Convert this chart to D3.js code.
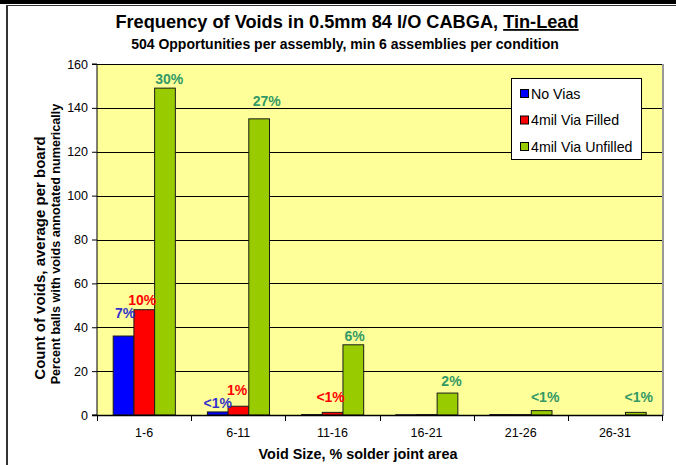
<!DOCTYPE html>
<html>
<head>
<meta charset="utf-8">
<script src="https://cdn.jsdelivr.net/npm/d3@7"></script>
<style>
  html, body { margin: 0; padding: 0; background: #fff; }
  svg { display: block; font-family: Arial, "Liberation Sans", sans-serif; }
</style>
</head>
<body>
<svg id="chart" width="676" height="465"></svg>
<script>
// ---- data ----
const categories = ["1-6", "6-11", "11-16", "16-21", "21-26", "26-31"];
const seriesNames = ["No Vias", "4mil Via Filled", "4mil Via Unfilled"];
const noVias   = [36, 1.4, 0.2, 0.1, 0.2, 0];
const viaFilled = [48, 4, 1.2, 0.2, 0.2, 0];
const viaUnfilled = [149, 135, 32, 10, 2, 1.2];
const noViasLabels = ["7%", "<1%", "", "", "", ""];
const viaFilledLabels = ["10%", "1%", "<1%", "", "", ""];
const viaUnfilledLabels = ["30%", "27%", "6%", "2%", "<1%", "<1%"];
const yTicks = [0, 20, 40, 60, 80, 100, 120, 140, 160];

// ---- layout / style ----
const colors = ["#0000FF", "#FF0000", "#99CC00"];
const labelColors = ["#3333CC", "#FF0000", "#339966"];
// label nudges [dx, gap above bar top] per series per category
const labelNudge = [
  [[1.5, 18], [0, 4], [0, 4], [0, 4], [0, 4], [0, 4]],
  [[-2, 5], [-1.3, 11], [-2, 10.6], [0, 4], [0, 4], [0, 4]],
  [[4.3, 4], [7.5, 13], [1.3, 4], [4, 7], [3.5, 9], [3, 10.6]]
];
const plot = { left: 97, right: 662, top: 64, bottom: 415 };

const svg = d3.select("#chart");

// frame
svg.append("rect").attr("x", 0).attr("y", 0).attr("width", 676).attr("height", 4).attr("fill", "#000");
svg.append("line").attr("x1", 6).attr("x2", 676).attr("y1", 5.5).attr("y2", 5.5).attr("stroke", "#333").attr("stroke-width", 1);
svg.append("line").attr("x1", 7).attr("x2", 7).attr("y1", 5).attr("y2", 465).attr("stroke", "#333").attr("stroke-width", 2);

const data = [noVias, viaFilled, viaUnfilled];
const labels = [noViasLabels, viaFilledLabels, viaUnfilledLabels];

const x0 = d3.scaleBand().domain(categories).range([plot.left, plot.right]).padding(0);
const bw = x0.bandwidth();
const x1 = d3.scaleBand().domain(d3.range(3)).range([bw * 0.172, bw * 0.832]).padding(0);
const y = d3.scaleLinear().domain([0, 160]).range([plot.bottom, plot.top]);

// plot background
svg.append("rect")
  .attr("x", plot.left).attr("y", plot.top)
  .attr("width", plot.right - plot.left).attr("height", plot.bottom - plot.top)
  .attr("fill", "#FFFF99");
// right shadow edge
svg.append("line").attr("x1", plot.right + 1).attr("x2", plot.right + 1)
  .attr("y1", plot.top).attr("y2", plot.bottom + 1).attr("stroke", "#999").attr("stroke-width", 2);

// gridlines
svg.append("g").selectAll("line").data(yTicks.filter(d => d > 0)).join("line")
  .attr("x1", plot.left).attr("x2", plot.right)
  .attr("y1", d => Math.round(y(d)) + 0.5).attr("y2", d => Math.round(y(d)) + 0.5)
  .attr("stroke", "#000").attr("stroke-width", 1);

// bars
const groups = svg.append("g").selectAll("g").data(categories).join("g")
  .attr("transform", c => `translate(${x0(c)},0)`);
groups.selectAll("rect").data((c, i) => data.map((s, k) => ({ k, v: s[i] }))).join("rect")
  .attr("x", d => x1(d.k))
  .attr("width", x1.bandwidth())
  .attr("y", d => y(d.v))
  .attr("height", d => y(0) - y(d.v))
  .attr("fill", d => colors[d.k])
  .attr("stroke", "#1a1a1a")
  .attr("stroke-width", 1);

// data labels
groups.selectAll("text").data((c, i) => data.map((s, k) => ({ k, i, v: s[i], t: labels[k][i] })).filter(d => d.t)).join("text")
  .attr("x", d => x1(d.k) + x1.bandwidth() / 2 + labelNudge[d.k][d.i][0])
  .attr("y", d => y(d.v) - labelNudge[d.k][d.i][1])
  .attr("text-anchor", "middle")
  .attr("font-weight", "bold")
  .attr("font-size", "14px")
  .attr("fill", d => labelColors[d.k])
  .text(d => d.t);

// y axis
const yAxis = d3.axisLeft(y).tickValues(yTicks).tickSize(5).tickPadding(4);
const gy = svg.append("g").attr("transform", `translate(${plot.left},0)`).call(yAxis);
gy.select(".domain").attr("stroke", "#000").attr("d", `M-5,${plot.top}H0V${plot.bottom}H-5`);
gy.selectAll(".tick line").attr("stroke", "#000");
gy.selectAll(".tick text").attr("font-size", "12.5px").attr("font-family", "Arial, 'Liberation Sans', sans-serif").attr("fill", "#000");

// x axis
svg.append("line").attr("x1", plot.left - 5).attr("x2", plot.right + 1)
  .attr("y1", plot.bottom + 0.5).attr("y2", plot.bottom + 0.5).attr("stroke", "#000").attr("stroke-width", 1.5);
svg.append("g").selectAll("line").data(categories.map(c => x0(c)).concat([plot.right])).join("line")
  .attr("x1", d => Math.round(d) + 0.5).attr("x2", d => Math.round(d) + 0.5)
  .attr("y1", plot.bottom).attr("y2", plot.bottom + 6).attr("stroke", "#000");
svg.append("g").selectAll("text").data(categories).join("text")
  .attr("x", c => x0(c) + bw / 2)
  .attr("y", 437)
  .attr("text-anchor", "middle")
  .attr("font-size", "12.5px")
  .text(c => c);

// titles
const title = svg.append("text").attr("x", 347).attr("y", 28).attr("text-anchor", "middle")
  .attr("font-weight", "bold").attr("font-size", "18.2px");
title.append("tspan").text("Frequency of Voids in 0.5mm 84 I/O CABGA, ");
title.append("tspan").attr("text-decoration", "underline").text("Tin-Lead");
svg.append("text").attr("x", 345).attr("y", 49).attr("text-anchor", "middle")
  .attr("font-weight", "bold").attr("font-size", "14px")
  .text("504 Opportunities per assembly, min 6 assemblies per condition");

svg.append("text").attr("transform", "translate(45,258) rotate(-90)").attr("text-anchor", "middle")
  .attr("font-weight", "bold").attr("font-size", "15px")
  .text("Count of voids, average per board");
svg.append("text").attr("transform", "translate(60,244) rotate(-90)").attr("text-anchor", "middle")
  .attr("font-weight", "bold").attr("font-size", "12.6px")
  .text("Percent balls with voids annotated numerically");

svg.append("text").attr("x", 358).attr("y", 459).attr("text-anchor", "middle")
  .attr("font-weight", "bold").attr("font-size", "14.4px")
  .text("Void Size, % solder joint area");

// legend
const lg = svg.append("g");
lg.append("rect").attr("x", 511.5).attr("y", 78.5).attr("width", 130).attr("height", 81)
  .attr("fill", "#fff").attr("stroke", "#000");
seriesNames.forEach((n, k) => {
  const cy = 93.5 + k * 26.5;
  lg.append("rect").attr("x", 520.5).attr("y", cy - 4).attr("width", 8).attr("height", 8)
    .attr("fill", colors[k]).attr("stroke", "#000");
  lg.append("text").attr("x", 531).attr("y", cy + 5).attr("font-size", "14.2px").text(n);
});
</script>
</body>
</html>
